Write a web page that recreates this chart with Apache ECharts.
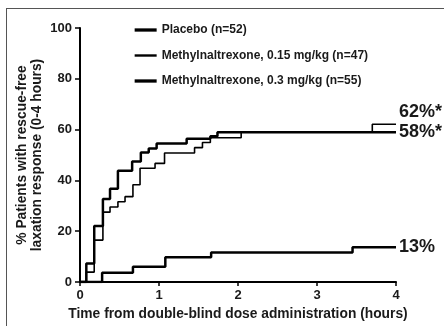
<!DOCTYPE html>
<html>
<head>
<meta charset="utf-8">
<script src="https://cdn.jsdelivr.net/npm/echarts@6/dist/echarts.min.js"></script>
<style>
  html, body { margin: 0; padding: 0; background: #fff; }
  #wrap { position: relative; width: 444px; height: 326px; overflow: hidden; }
  #frame { position: absolute; left: 6px; top: 8px; right: -4px; bottom: -4px; border-top: 1px solid #555; border-left: 1px solid #555; }
  #chart { position: absolute; left: 0; top: 0; width: 444px; height: 326px; }
</style>
</head>
<body>
<div id="wrap">
  <div id="frame"></div>
  <div id="chart"></div>
</div>
<script>
  // [time (hours), % patients]
  var placebo = [[0, 0], [0.28, 3.6], [0.67, 6.0], [1.08, 9.7], [1.66, 11.6], [3.45, 13.7], [4, 13.7]]
  var mntx015 = [[0, 0], [0.08, 3.9], [0.18, 16.5], [0.29, 27.5], [0.38, 29.5], [0.48, 31.6], [0.57, 33.6],
    [0.67, 38.3], [0.76, 44.8], [0.95, 46.7], [1.07, 50.8], [1.45, 52.9], [1.55, 54.9], [1.65, 56.8],
    [2.04, 59.0], [3.7, 62.1], [4, 62.1]]
  var mntx03 = [[0, 0], [0.08, 7.3], [0.18, 22.0], [0.29, 32.7], [0.38, 36.7], [0.48, 43.8], [0.66, 47.4],
    [0.77, 51.0], [0.87, 52.6], [0.97, 54.5], [1.35, 56.4], [1.65, 57.4], [1.74, 59.0], [4, 59.0]]
  var seriesNames = ['Placebo (n=52)', 'Methylnaltrexone, 0.15 mg/kg (n=47)', 'Methylnaltrexone, 0.3 mg/kg (n=55)']
  var endTexts = ['13%', '62%*', '58%*']
  var lineWidths = [2.5, 1.6, 2.5]

  var font = 'Liberation Sans, Arial, sans-serif'
  var ink = '#1a1a1a'

  function curve(i, data, dy) {
    return {
      name: seriesNames[i],
      type: 'line',
      step: 'end',
      data: data,
      symbol: 'none',
      color: '#000',
      animation: false,
      lineStyle: { color: '#000', width: lineWidths[i] },
      endLabel: {
        show: true,
        formatter: endTexts[i],
        distance: 3,
        offset: [0, dy],
        fontFamily: font,
        fontWeight: 'bold',
        fontSize: 18,
        color: ink,
      },
    }
  }

  var chart = echarts.init(document.getElementById('chart'))
  chart.setOption({
    animation: false,
    grid: { left: 80, right: 48, top: 28, bottom: 41, containLabel: false },
    legend: {
      orient: 'vertical',
      left: 133,
      top: 24,
      padding: 0,
      itemWidth: 22,
      itemHeight: 14,
      itemGap: 13.5,
      data: seriesNames.map(function (n, i) {
        return { name: n, lineStyle: { width: lineWidths[i] + 0.8 } }
      }),
      itemStyle: { opacity: 0 },
      textStyle: { fontFamily: font, fontWeight: 'bold', fontSize: 12, color: ink, padding: [0, 0, 0, 0] },
    },
    xAxis: {
      type: 'value',
      min: 0,
      max: 4,
      interval: 1,
      name: 'Time from double-blind dose administration (hours)',
      nameLocation: 'middle',
      nameGap: 25,
      nameTextStyle: { fontFamily: font, fontWeight: 'bold', fontSize: 13.8, color: ink },
      axisLine: { lineStyle: { color: '#000', width: 2 } },
      axisTick: { length: 4, lineStyle: { color: '#000', width: 1.5 } },
      axisLabel: { fontFamily: font, fontWeight: 'bold', fontSize: 13, color: ink, margin: 7 },
      splitLine: { show: false },
    },
    yAxis: {
      type: 'value',
      min: 0,
      max: 100,
      interval: 20,
      name: '% Patients with rescue-free\nlaxation response (0-4 hours)',
      nameLocation: 'middle',
      nameGap: 35,
      nameMoveOverlap: false,
      nameTextStyle: { fontFamily: font, fontWeight: 'bold', fontSize: 13.8, lineHeight: 15, color: ink },
      axisLine: { show: true, lineStyle: { color: '#000', width: 2 } },
      axisTick: { show: true, length: 5, lineStyle: { color: '#000', width: 1.5 } },
      axisLabel: { fontFamily: font, fontWeight: 'bold', fontSize: 13, color: ink, margin: 8 },
      splitLine: { show: false },
    },
    series: [
      curve(0, placebo, 0),
      curve(1, mntx015, -12),
      curve(2, mntx03, 0),
    ],
  })
</script>
</body>
</html>
